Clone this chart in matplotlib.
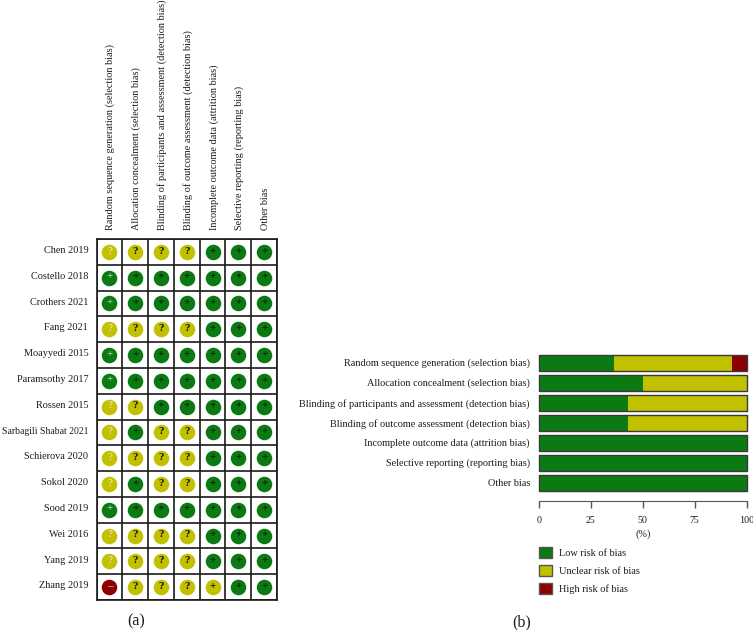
import matplotlib
matplotlib.use("Agg")
import matplotlib.pyplot as plt
from matplotlib.patches import Patch

plt.rcParams['font.family'] = ['Liberation Serif', 'DejaVu Serif']

W, H = 753, 630

# Data
etudes = ["Chen 2019", "Costello 2018", "Crothers 2021", "Fang 2021", "Moayyedi 2015",
          "Paramsothy 2017", "Rossen 2015", "Sarbagili Shabat 2021", "Schierova 2020",
          "Sokol 2020", "Sood 2019", "Wei 2016", "Yang 2019", "Zhang 2019"]
domaines = ["Random sequence generation (selection bias)",
            "Allocation concealment (selection bias)",
            "Blinding of participants and assessment (detection bias)",
            "Blinding of outcome assessment (detection bias)",
            "Incomplete outcome data (attrition bias)",
            "Selective reporting (reporting bias)",
            "Other bias"]
# one string per study: + low, ? unclear, - high, y = yellow circle with a plus
risques = ["????+++", "+++++++", "+++++++", "????+++", "+++++++", "+++++++", "??+++++",
           "?+??+++", "????+++", "?+??+++", "+++++++", "????+++", "????+++", "-???y++"]
faible = [36, 50, 43, 43, 100, 100, 100]
incertain = [57, 50, 57, 57, 0, 0, 0]
eleve = [7, 0, 0, 0, 0, 0, 0]
ticks_pct = [0, 25, 50, 75, 100]

VERT = "#0b7a12"
JAUNE = "#c1c100"
ROUGE = "#8b0000"
GRIS = "#555555"
TEXTE = "#1c1c1c"
FS = 7.35


def axes_px(fig, x0, y0, x1, y1):
    return fig.add_axes([x0 / W, 1 - y1 / H, (x1 - x0) / W, (y1 - y0) / H])


fig = plt.figure(figsize=(W / 100, H / 100), dpi=100)

# (a) grille
ax = axes_px(fig, 96.5, 239, 277, 600)
ax.set_xlim(0, 7)
ax.set_ylim(14, 0)
ax.set_xticks(range(8))
ax.set_yticks(range(15))
ax.grid(True, color="#1a1a1a", linewidth=1.2)
ax.tick_params(length=0, labelbottom=False, labelleft=False)
for s in ax.spines.values():
    s.set_linewidth(1.2)
    s.set_color("#1a1a1a")
ax.set_axisbelow(True)

couleurs = {"+": VERT, "?": JAUNE, "-": ROUGE, "y": JAUNE}
symboles = {"+": "+", "?": "?", "-": "\u2013", "y": "+"}
for i, ligne in enumerate(risques):
    for j, r in enumerate(ligne):
        ax.scatter(j + 0.5, i + 0.5, s=125, color=couleurs[r], linewidths=0, zorder=3)
        coul = "#f0f0e0" if j == 0 else "#111111"
        ax.text(j + 0.5, i + 0.47, symboles[r], ha="center", va="center", fontsize=8,
                fontweight="bold" if j > 0 else "normal", color=coul, zorder=4)
    # le nom le plus long touche le bord gauche
    taille = 7.0 if len(etudes[i]) > 20 else FS
    ax.text(-0.32, i + 0.45, etudes[i], ha="right", va="center", fontsize=taille, color=TEXTE)
for j, d in enumerate(domaines):
    ax.text(j + 0.55, -0.35, d, rotation=90, ha="center", va="bottom", fontsize=FS,
            color=TEXTE, clip_on=False)

fig.text(136 / W, 1 - 621 / H, "(a)", ha="center", va="center", fontsize=11.5, color=TEXTE)

# (b) barres
ax2 = axes_px(fig, 539, 352, 746.5, 500.7)
y = list(range(len(domaines)))
gauche2 = faible
gauche3 = [a + b for a, b in zip(faible, incertain)]
opts = dict(height=0.8, edgecolor="none", zorder=2)
ax2.barh(y, faible, color=VERT, **opts)
ax2.barh(y, incertain, left=gauche2, color=JAUNE, **opts)
ax2.barh(y, eleve, left=gauche3, color=ROUGE, **opts)
# contour des barres
ax2.barh(y, [100] * 7, height=0.8, facecolor="none", edgecolor="#3a3a3a", linewidth=1.0,
         zorder=3, clip_on=False)
ax2.set_xlim(0, 100)
ax2.set_ylim(6.91, -0.525)
ax2.set_yticks(y)
ax2.set_yticklabels(domaines, fontsize=FS, color=TEXTE)
ax2.set_xticks(ticks_pct)
ax2.set_xticklabels(ticks_pct, fontsize=7.2, color=TEXTE)
ax2.tick_params(axis="y", length=0, pad=6.5)
ax2.tick_params(axis="x", length=5, width=1, color=GRIS, pad=6)
for n in ["top", "right", "left"]:
    ax2.spines[n].set_visible(False)
ax2.spines["bottom"].set_color(GRIS)
ax2.set_xlabel("(%)", fontsize=FS, color=TEXTE, labelpad=3)

poignees = [Patch(facecolor=VERT, edgecolor=GRIS, label="Low risk of bias"),
            Patch(facecolor=JAUNE, edgecolor=GRIS, label="Unclear risk of bias"),
            Patch(facecolor=ROUGE, edgecolor=GRIS, label="High risk of bias")]
leg = fig.legend(handles=poignees, loc="upper left", bbox_to_anchor=(539 / W, 1 - 547 / H),
                 frameon=False, fontsize=FS, handlelength=1.27, handleheight=1.27,
                 labelspacing=0.68, handletextpad=0.67, labelcolor=TEXTE,
                 borderpad=0, borderaxespad=0)

fig.text(522 / W, 1 - 622 / H, "(b)", ha="center", va="center", fontsize=11.5, color=TEXTE)

fig.savefig("out.png", dpi=100)
